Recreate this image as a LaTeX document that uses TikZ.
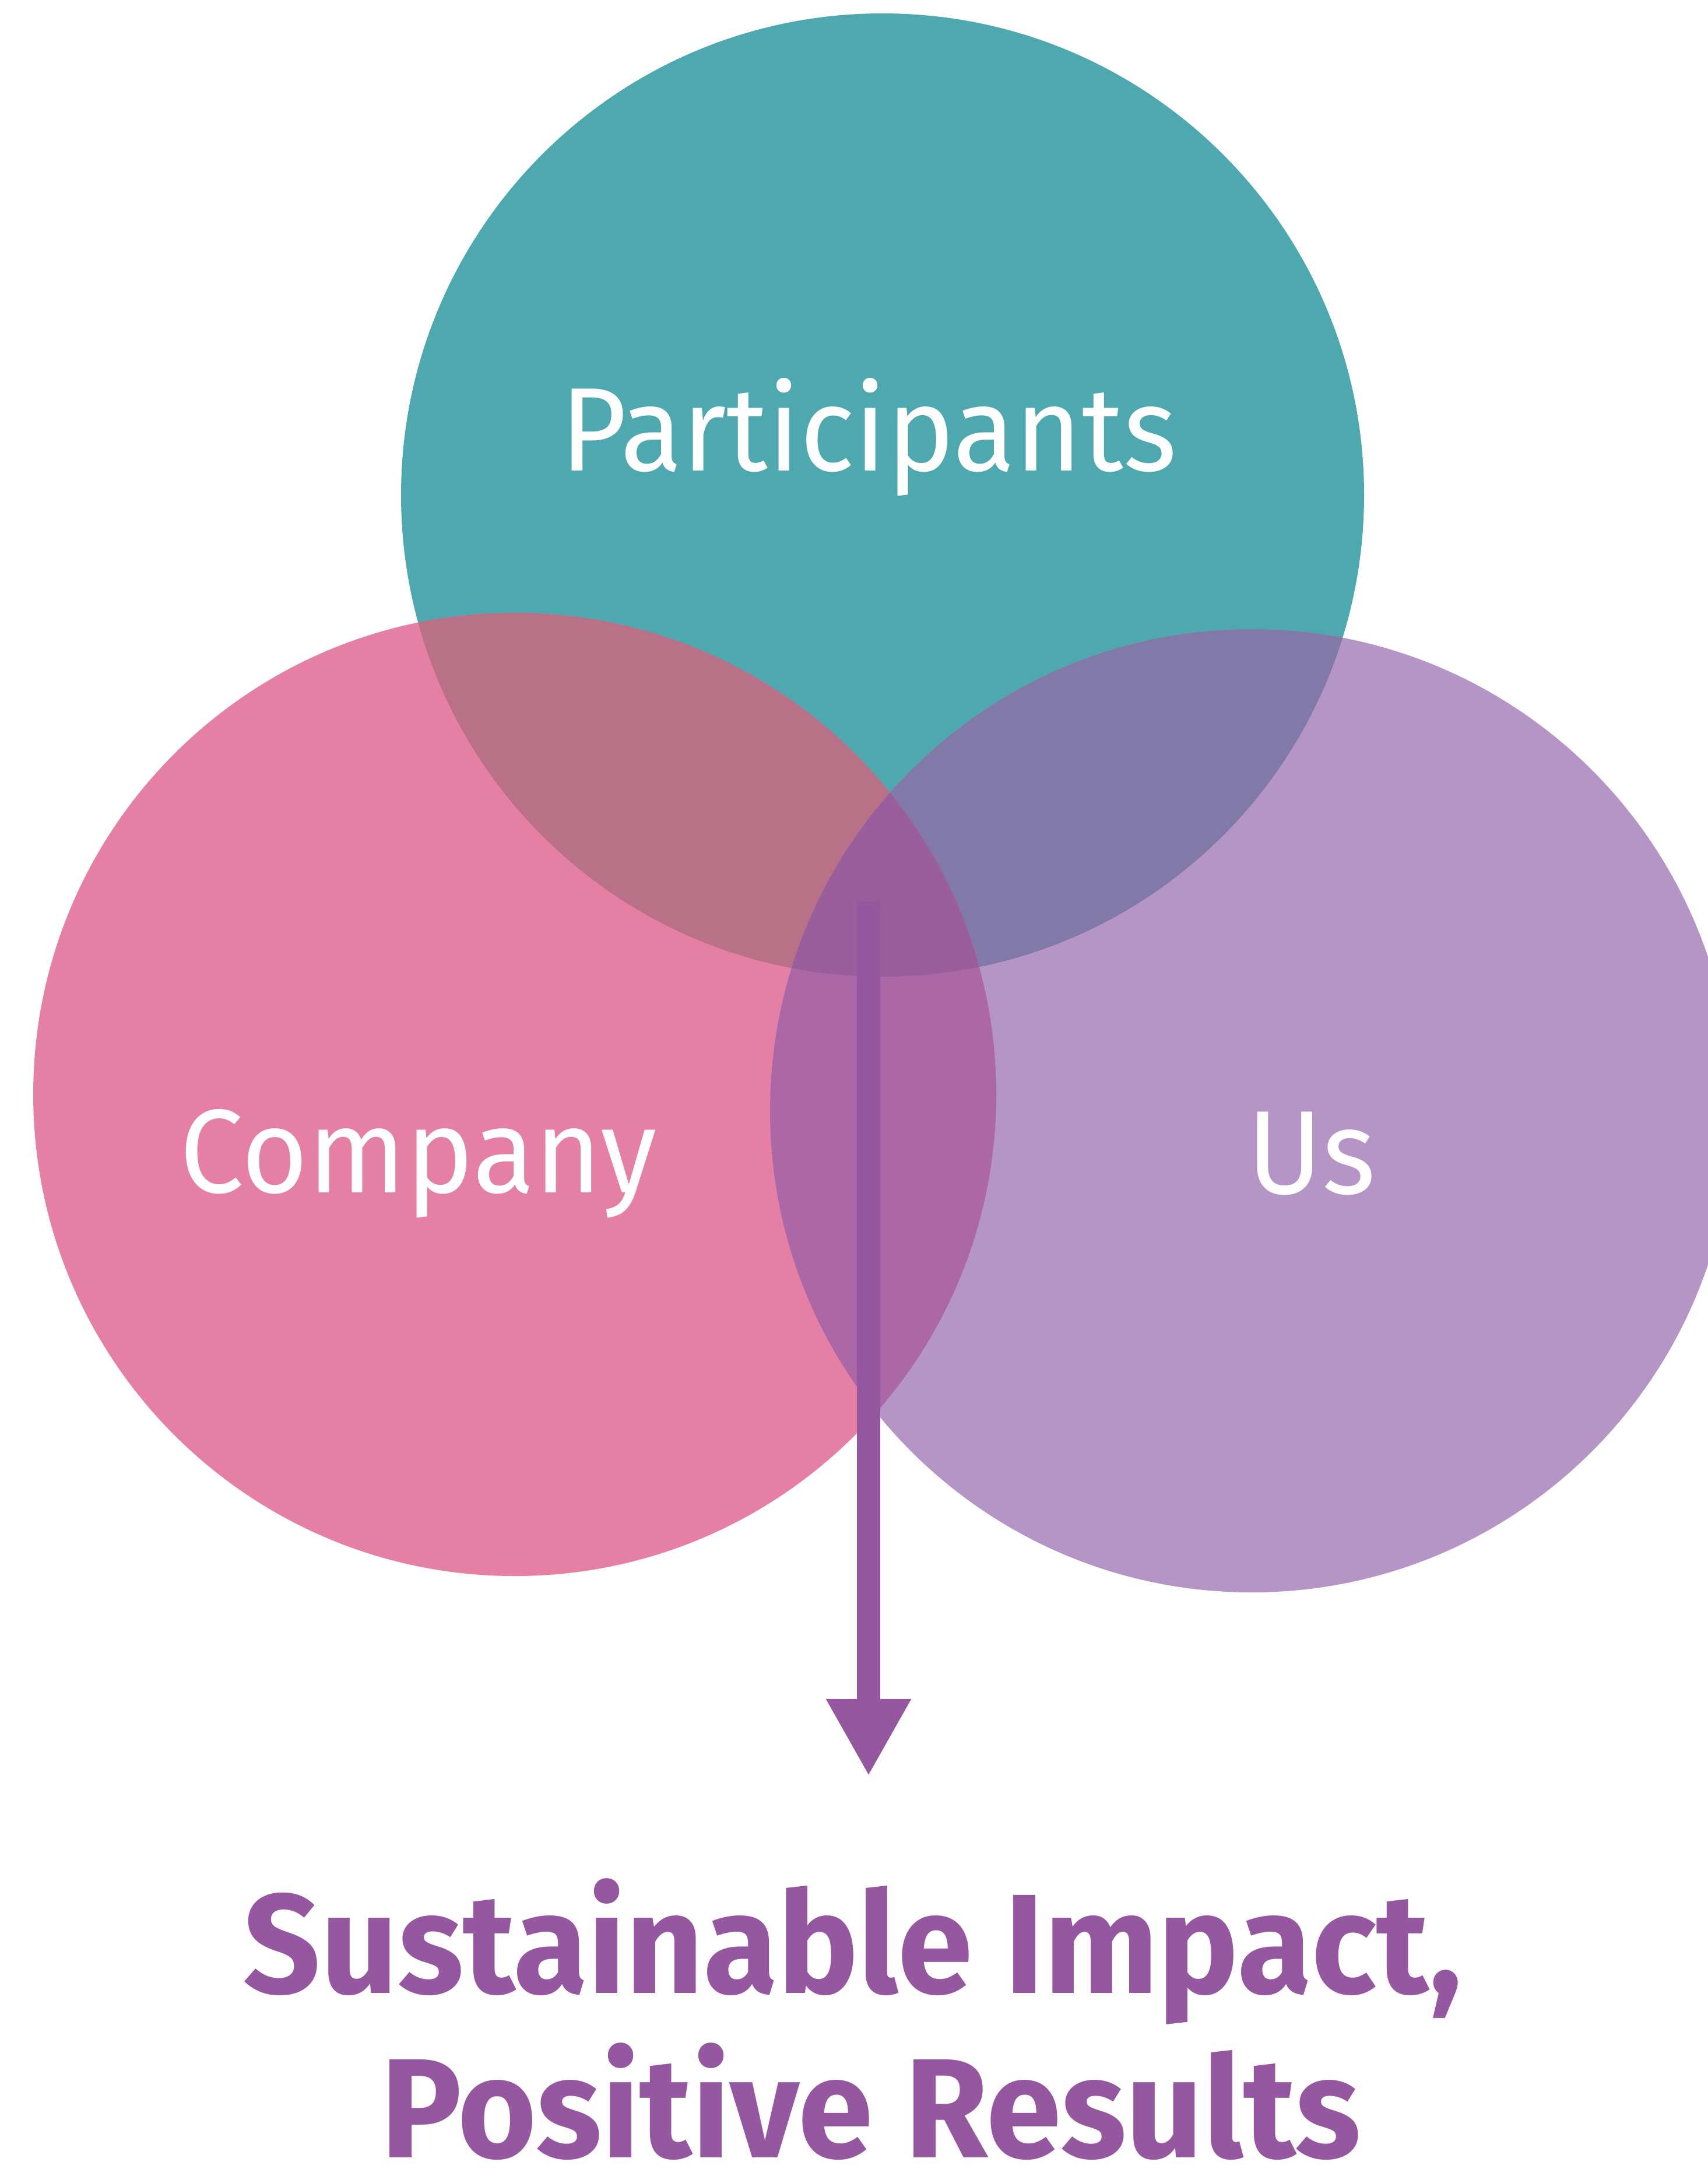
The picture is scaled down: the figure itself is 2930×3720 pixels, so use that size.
\documentclass[tikz,border=0pt]{standalone}
\usepackage{fontspec}
\setmainfont{Fira Sans}
\usetikzlibrary{arrows.meta}
\definecolor{cteal}{HTML}{4EA8B0}
\definecolor{cpink}{HTML}{E57FA4}
\definecolor{cpurp}{HTML}{B595C6}
\definecolor{ctp}{HTML}{B87186}
\definecolor{ctu}{HTML}{8179A8}
\definecolor{cpu}{HTML}{AC68A6}
\definecolor{ctri}{HTML}{9B5E9C}
\definecolor{carrow}{HTML}{9457A0}
\tikzset{
  lbl/.style={text=white, inner sep=0pt, anchor=base, font=\fontsize{58}{60}\selectfont\addfontfeatures{FakeStretch=0.96}},
  headline/.style={text=carrow, inner sep=0pt, anchor=base, font=\bfseries\fontsize{69}{72}\selectfont\addfontfeatures{FakeStretch=0.955}},
}
\begin{document}
\begin{tikzpicture}[x=0.01cm,y=-0.01cm]
\useasboundingbox[fill=white] (0,0) rectangle (2930,3720);
\def\pT{(1514,849) circle[radius=826]}
\def\pL{(883,1877) circle[radius=826]}
\def\pR{(2147,1905) circle[radius=826]}
\fill[cteal] \pT;
\fill[cpink] \pL;
\fill[cpurp] \pR;
\begin{scope}\clip \pT; \fill[ctp] \pL; \end{scope}
\begin{scope}\clip \pT; \fill[ctu] \pR; \end{scope}
\begin{scope}\clip \pL; \fill[cpu] \pR; \end{scope}
\begin{scope}\clip \pT; \clip \pL; \fill[ctri] \pR; \end{scope}
\node[lbl] (part) at (1490,807) {Participants};
\node[lbl] (comp) at (718,2045) {Company};
\node[lbl] (us) at (2250,2047) {Us};
\coordinate (astart) at (1490,1545);
\coordinate (aend) at (1490,3046);
\draw[carrow, line width=0.4cm, -{Triangle[width=1.36cm,length=1.32cm]}] (astart) -- (aend);
\node[headline] (res1) at (1463,3418) {Sustainable Impact,};
\node[headline] (res2) at (1494,3700) {Positive Results};
\end{tikzpicture}
\end{document}
